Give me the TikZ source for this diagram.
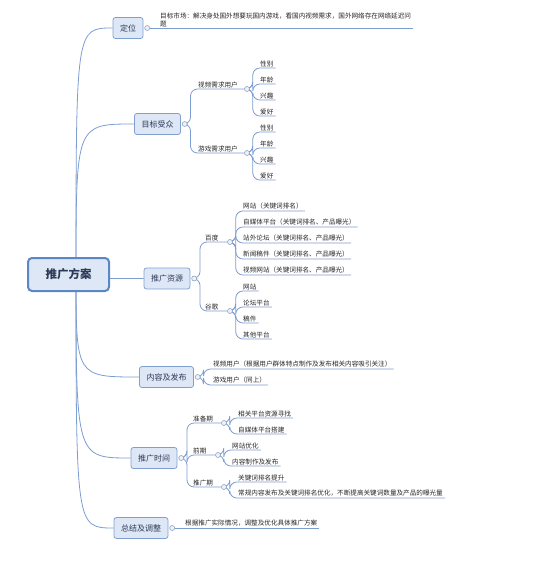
\documentclass[tikz,border=0pt]{standalone}
\usepackage{fontspec}
\newfontfamily\cjk{Noto Sans CJK SC}
\usetikzlibrary{positioning,backgrounds}
\definecolor{lineblue}{HTML}{7C9DCF}
\definecolor{boxline}{HTML}{7F9FD1}
\definecolor{boxfill}{HTML}{DDE7F5}
\definecolor{rootline}{HTML}{5B87C6}
\definecolor{topictext}{HTML}{2B3A58}
\definecolor{knobline}{HTML}{8FA4C4}
\definecolor{knobfill}{HTML}{EEF2F8}

\begin{document}
\begin{tikzpicture}[x=1pt,y=-1pt,
    topic/.style={draw=boxline, fill=boxfill, rounded corners=2.5pt, line width=0.8pt,
        text=topictext, font=\cjk\fontsize{8}{9}\selectfont, inner xsep=7pt, minimum height=21pt},
    rootbox/.style={topic, draw=rootline, line width=2pt, rounded corners=4pt,
        minimum width=81pt, minimum height=33pt, font=\cjk\bfseries\fontsize{11.5}{13}\selectfont},
    leaf/.style={anchor=south west, inner xsep=2pt, inner ysep=1.2pt, text=black!85,
        font=\cjk\fontsize{6.6}{8}\selectfont, align=left},
    knob/.style={circle, draw=knobline, fill=knobfill, line width=0.6pt, inner sep=0pt, minimum size=5pt},
    link/.style={draw=lineblue, line width=0.8pt},
    fork/.style={link, rounded corners=7pt}]

    \useasboundingbox (0,0) rectangle (555,575);

    % main topics
    \node[rootbox] (root) at (68.5,274.5) {推广方案};
    \coordinate (rootc) at (76,274);
    \node[topic] (dw) at (128,28) {定位};
    \node[topic] (mb) at (157.5,124) {目标受众};
    \node[topic] (tg) at (167,278.5) {推广资源};
    \node[topic] (nr) at (166.5,377) {内容及发布};
    \node[topic] (sj) at (154,458) {推广时间};
    \node[topic] (zj) at (141,528) {总结及调整};
    \foreach \t in {dw,mb,tg,nr,sj,zj}{
        \node[knob, right=1pt of \t] (\t k) {};
    }

    % 定位
    \node[leaf] (dwtext) at (158,28) {目标市场：解决身处国外想要玩国内游戏，看国内视频需求，国外网络存在网络延迟问\\题};

    % 目标受众
    \node[leaf] (sp) at (196,89) {视频需求用户};
    \node[knob] (spk) at (247,89) {};
    \node[leaf] (yx) at (196,153) {游戏需求用户};
    \node[knob] (yxk) at (247,153) {};
    \foreach \t [count=\i] in {性别,年龄,兴趣,爱好}{
        \node[leaf] (sp\i) at (258,52+16*\i) {\t};
        \node[leaf] (yx\i) at (258,116+16*\i) {\t};
    }

    % 推广资源
    \node[leaf] (bd) at (203,242) {百度};
    \node[knob] (bdk) at (230,242) {};
    \node[leaf] (gg) at (203,311) {谷歌};
    \node[knob] (ggk) at (230,311) {};
    \foreach \t [count=\i] in {网站（关键词排名）,自媒体平台（关键词排名、产品曝光）,站外论坛（关键词排名、产品曝光）,新闻稿件（关键词排名、产品曝光）,视频网站（关键词排名、产品曝光）}{
        \node[leaf] (bd\i) at (241,195+16*\i) {\t};
    }
    \foreach \t [count=\i] in {网站,论坛平台,稿件,其他平台}{
        \node[leaf] (gg\i) at (241,275+16*\i) {\t};
    }

    % 内容及发布
    \node[leaf] (nr1) at (211,369) {视频用户（根据用户群体特点制作及发布相关内容吸引关注）};
    \node[leaf] (nr2) at (211,385) {游戏用户（同上）};

    % 推广时间
    \node[leaf] (zb) at (191,423) {准备期};
    \node[knob] (zbk) at (224,423) {};
    \node[leaf] (qq) at (191,455) {前期};
    \node[knob] (qqk) at (218,455) {};
    \node[leaf] (tq) at (191,487) {推广期};
    \node[knob] (tqk) at (224,487) {};
    \node[leaf] (zb1) at (236,418) {相关平台资源寻找};
    \node[leaf] (zb2) at (236,434) {自媒体平台搭建};
    \node[leaf] (qq1) at (230,450) {网站优化};
    \node[leaf] (qq2) at (230,466) {内容制作及发布};
    \node[leaf] (tq1) at (236,482) {关键词排名提升};
    \node[leaf] (tq2) at (236,498) {常规内容发布及关键词排名优化，不断提高关键词数量及产品的曝光量};

    % 总结及调整
    \node[leaf] (zjtext) at (183,528) {根据推广实际情况，调整及优化具体推广方案};

    \begin{pgfonlayer}{background}
        \foreach \t in {dw,mb,tg,nr,sj,zj}{
            \draw[link] (rootc) .. controls (rootc |- \t.west) .. (\t.west);
        }
        \draw[link] (dwk) -- (dwtext.south east);
        \draw[link] (zjk) -- (zjtext.south east);
        \foreach \a/\b in {mbk/spk,mbk/yxk,tgk/bdk,tgk/ggk,sjk/zbk,sjk/qqk,sjk/tqk}{
            \draw[fork] (\a.east) -- ++(3,0) |- (\b);
        }
        \foreach \i in {1,...,4}{
            \draw[fork] (spk.east) -- ++(3,0) |- (sp\i.south east);
            \draw[fork] (yxk.east) -- ++(3,0) |- (yx\i.south east);
            \draw[fork] (ggk.east) -- ++(3,0) |- (gg\i.south east);
        }
        \foreach \i in {1,...,5}{
            \draw[fork] (bdk.east) -- ++(3,0) |- (bd\i.south east);
        }
        \foreach \a/\b in {nrk/nr1,nrk/nr2,zbk/zb1,zbk/zb2,qqk/qq1,qqk/qq2,tqk/tq1,tqk/tq2}{
            \draw[fork] (\a.east) -- ++(3,0) |- (\b.south east);
        }
    \end{pgfonlayer}
\end{tikzpicture}
\end{document}
